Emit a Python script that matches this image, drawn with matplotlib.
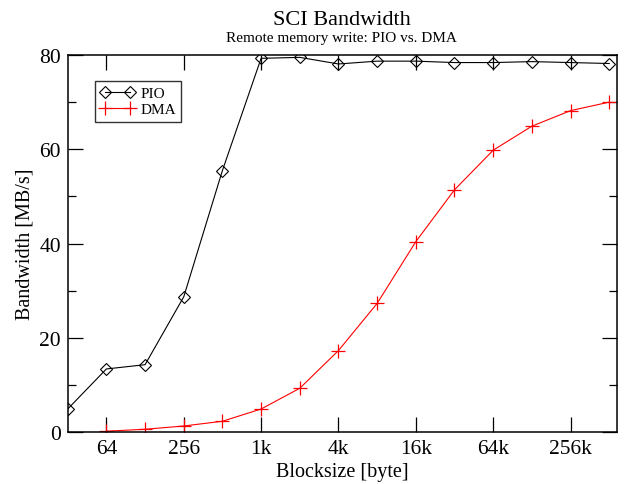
import numpy as np
import matplotlib
matplotlib.use("Agg")
import matplotlib.pyplot as plt
from matplotlib.ticker import FixedLocator

plt.rcParams['font.family'] = ['Liberation Serif', 'DejaVu Serif']

# block sizes in bytes
pio_sizes = [32, 64, 128, 256, 512, 1024, 2048, 4096, 8192, 16384, 32768,
             65536, 131072, 262144, 524288]
pio_bw = [4.9, 13.4, 14.3, 28.7, 55.5, 79.3, 79.5, 78.1, 78.7, 78.7, 78.4,
          78.4, 78.6, 78.4, 78.2]

dma_sizes = [64, 128, 256, 512, 1024, 2048, 4096, 8192, 16384, 32768,
             65536, 131072, 262144, 524288]
dma_bw = [0.2, 0.6, 1.3, 2.3, 4.9, 9.3, 17.3, 27.3, 40.4, 51.4, 59.8,
          64.9, 68.2, 70.0]

xtick_vals = [64, 256, 1024, 4096, 16384, 65536, 262144]
xtick_labels = ['64', '256', '1k', '4k', '16k', '64k', '256k']

fig = plt.figure(figsize=(6.27, 4.85), dpi=100)
ax = fig.add_axes([0.108, 0.107, 0.8756, 0.7775])

ax.plot(pio_sizes, pio_bw, color='black', lw=0.8, marker='D', markersize=6.5,
        markerfacecolor='none', markeredgecolor='black', markeredgewidth=0.8,
        label='PIO')
ax.plot(dma_sizes, dma_bw, color='red', lw=0.8, marker='+', markersize=10.5,
        markeredgewidth=0.9, label='DMA')

ax.set_xscale('log', base=2)
ax.set_xlim(32, 600000)
ax.set_ylim(0, 80)
ax.xaxis.set_major_locator(FixedLocator(xtick_vals))
ax.set_xticklabels(xtick_labels)
ax.xaxis.set_minor_locator(FixedLocator([]))
ax.set_yticks([0, 20, 40, 60, 80])
ax.set_yticks([10, 30, 50, 70], minor=True)

ax.tick_params(which='both', direction='in', top=True, right=True,
               labelsize=15.5, width=0.9)
ax.tick_params(which='major', length=11, pad=5)
ax.tick_params(which='minor', length=6)
for s in ax.spines.values():
    s.set_linewidth(1.1)

ax.set_xlabel('Blocksize [byte]', fontsize=14.5, labelpad=3)
ax.set_ylabel('Bandwidth [MB/s]', fontsize=14.5, labelpad=3)

fig.text(0.545, 0.957, 'SCI Bandwidth', ha='center', va='center', fontsize=16)
fig.text(0.545, 0.92, 'Remote memory write: PIO vs. DMA', ha='center',
         va='center', fontsize=11)

leg = ax.legend(loc='upper left', bbox_to_anchor=(0.05, 0.93), fontsize=11,
                frameon=True, fancybox=False, edgecolor='black', numpoints=2,
                borderpad=0.35, handlelength=2.2, handletextpad=0.4,
                labelspacing=0.15, borderaxespad=0)
leg.get_frame().set_linewidth(1.0)

fig.savefig('out.png', dpi=100)
